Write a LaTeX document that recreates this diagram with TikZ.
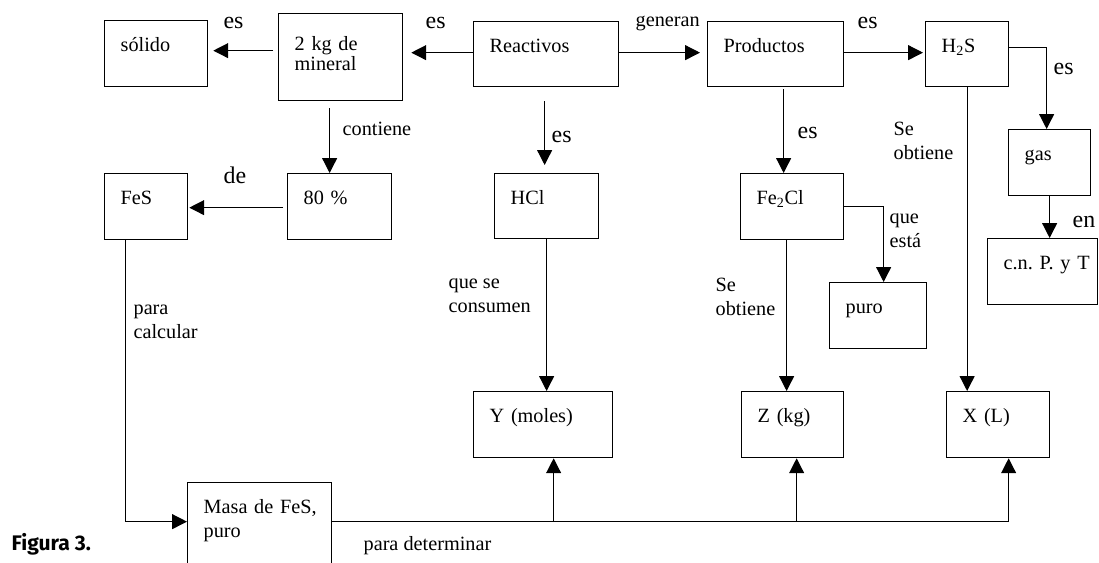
\documentclass[tikz,border=0pt]{standalone}
\usepackage{fontspec}
\setmainfont{Liberation Serif}
\newfontfamily\figfont{Fira Sans}
\usetikzlibrary{arrows.meta}
\frenchspacing
\newdimen\px \px=0.025cm
\tikzstyle{box} = [draw, anchor=north west, align=left, inner xsep=16\px, inner ysep=0pt, text height=31\px, font=\fontsize{14.4}{17}\selectfont]
\tikzstyle{txt} = [anchor=base west, inner sep=0pt, align=left, font=\fontsize{14.4}{17}\selectfont]
\tikzstyle{bigtxt} = [anchor=base west, inner sep=0pt, font=\fontsize{17}{20}\selectfont]
\tikzstyle{arrow} = [-{Triangle[length=10.5pt,width=10.5pt]}]

\begin{document}
\begin{tikzpicture}[x=0.025cm, y=-0.025cm, line width=0.9pt]
        \useasboundingbox (0,0) rectangle (1099,562);
        \node (solido) [box, text width=71\px, text depth=35\px] at (104,20) {sólido};
        \node (mineral) [box, text width=92\px, text height=37\px, text depth=50\px] at (278,13) {2 kg de\\[-3pt]mineral};
        \node (react) [box, text width=113\px, text depth=34\px] at (473,21) {Reactivos};
        \node (prod) [box, text width=104\px, text depth=34\px] at (707,21) {Productos};
        \node (hs) [box, text width=51\px, text depth=34\px] at (925,21) {H\textsubscript{2}S};
        \node (gas) [box, text width=50\px, text depth=35\px] at (1008,129) {gas};
        \node (cnpt) [box, text width=78\px, text depth=35\px] at (987,238) {\mbox{c.n. P. y T}};
        \node (fes) [box, text width=51\px, text depth=35\px] at (104,173) {FeS};
        \node (pct) [box, text width=72\px, text depth=35\px] at (287,173) {80 \%};
        \node (hcl) [box, text width=72\px, text depth=34\px] at (494,173) {HCl};
        \node (fecl) [box, text width=71\px, text depth=35\px] at (740,173) {Fe\textsubscript{2}Cl};
        \node (puro) [box, text width=65\px, text depth=35\px] at (829,282) {puro};
        \node (ymol) [box, text width=107\px, text depth=35\px] at (473,391) {Y (moles)};
        \node (zkg) [box, text width=70\px, text depth=35\px] at (741,391) {Z (kg)};
        \node (xl) [box, text width=71\px, text depth=35\px] at (946,391) {X (L)};
        \node (masa) [box, text width=112\px, text depth=64\px] at (187,482) {\mbox{Masa de FeS,}\\puro};

        \draw [arrow] ([shift={(-5,-6.5)}]mineral.west) -- ([shift={(5,-3)}]solido.east);
        \draw [arrow] ([shift={(0,-1.5)}]react.west) -- ([shift={(8,-4.5)}]mineral.east);
        \draw [arrow] ([shift={(0,-1.5)}]react.east) -- ([shift={(-7,-1.5)}]prod.west);
        \draw [arrow] ([shift={(0,-1.5)}]prod.east) -- ([shift={(-2,-1.5)}]hs.west);
        \draw [arrow] ([shift={(-11,7)}]mineral.south) -- ([shift={(-10,0)}]pct.north);
        \draw [arrow] ([shift={(-4,1)}]pct.west) -- ([shift={(1,1)}]fes.east);
        \draw [arrow] ([shift={(-1.5,14)}]react.south) -- ([shift={(-2,-8)}]hcl.north);
        \draw [arrow] ([shift={(8,2)}]prod.south) -- ([shift={(-8.5,0)}]fecl.north);
        \draw [arrow] ([shift={(0,-6.5)}]hs.east) -| ([shift={(-3,0)}]gas.north);
        \draw [arrow] (gas.south) -- (gas.south |- cnpt.north);
        \draw [arrow] (hs.south) -- (hs.south |- xl.north);
        \draw [arrow] (fecl.east) -| ([shift={(5.5,0)}]puro.north);
        \coordinate (fz) at ([shift={(-5.5,0)}]fecl.south);
        \draw [arrow] (fz) -- (fz |- zkg.north);
        \draw [arrow] (hcl.south) -- (hcl.south |- ymol.north);
        \draw [arrow] ([shift={(-20.5,0)}]fes.south) |- ([shift={(0,-8.5)}]masa.west);
        \coordinate (det) at ([shift={(0,-8.5)}]masa.east);
        \coordinate (yin) at ([shift={(10.5,0)}]ymol.south);
        \coordinate (zin) at ([shift={(4,0)}]zkg.south);
        \coordinate (xin) at ([shift={(10.5,0)}]xl.south);
        \draw [arrow] (det) -| (xin);
        \draw [arrow] (det -| yin) -- (yin);
        \draw [arrow] (det -| zin) -- (zin);

        \node (es-sol) [bigtxt] at (223,28) {es};
        \node (es-min) [bigtxt] at (425,28) {es};
        \node (generan) [txt] at (635,26) {generan};
        \node (es-hs) [bigtxt] at (857,28) {es};
        \node (contiene) [txt] at (342,135) {contiene};
        \node (de) [bigtxt] at (223,183) {de};
        \node (es-hcl) [bigtxt] at (551,142) {es};
        \node (es-fecl) [bigtxt] at (797,138) {es};
        \node (es-gas) [bigtxt] at (1053,74) {es};
        \node (en) [bigtxt] at (1072,227) {en};
        \node (obt-x) [txt] at (893,159) {Se\\obtiene};
        \node (esta) [txt] at (889,247) {que\\está};
        \node (obt-z) [txt] at (715,315) {Se\\obtiene};
        \node (consumen) [txt] at (448,312) {que se\\consumen};
        \node (calcular) [txt] at (133,338) {para\\calcular};
        \node (determinar) [txt] at (363,550) {para determinar};
        \node (figura) [anchor=base west, inner sep=0pt, font=\figfont\bfseries\fontsize{15}{18}\selectfont] at (11,550) {Figura 3.};
\end{tikzpicture}
\end{document}
